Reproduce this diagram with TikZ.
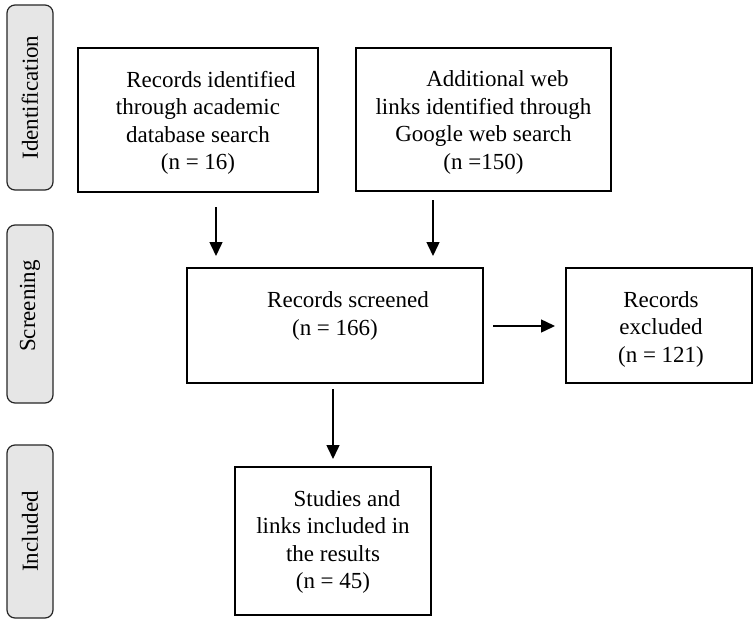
\documentclass[tikz,border=0pt]{standalone}
\usepackage{fontspec}
\setmainfont{Liberation Serif}
\usetikzlibrary{arrows.meta}
\definecolor{phasegray}{HTML}{E6E6E6}
\begin{document}
\begin{tikzpicture}[x=1pt,y=-1pt,
  every node/.style={font=\fontsize{23}{27.5}\selectfont},
  phase/.style={draw=black!85, line width=1.2pt, fill=phasegray,
    rounded corners=8pt, rotate=90, minimum height=46pt, inner sep=0pt},
  flowbox/.style={draw=black, line width=1.5pt, inner sep=0pt},
  txt/.style={align=center, inner sep=0pt},
  flow/.style={line width=1.5pt, -{Triangle[length=14pt,width=13pt]}}]
  \useasboundingbox (0,0) rectangle (753,619);

  % phase labels on the left
  \node[phase, minimum width=185pt] (pid)  at (30,97.5)  {Identification};
  \node[phase, minimum width=178pt] (pscr) at (30,314)   {\hspace*{16pt}Screening};
  \node[phase, minimum width=173pt] (pinc) at (30,531.5) {Included};

  % identification boxes
  \node[flowbox, minimum width=240pt, minimum height=144pt] (db) at (198,120) {};
  \node[txt] (dbtxt) at (198,123)
    {\hspace*{26pt}Records identified\\through academic\\database search\\(n = 16)};
  \node[flowbox, minimum width=255pt, minimum height=143pt] (web) at (483.5,119.5) {};
  \node[txt] (webtxt) at (483.5,122.5)
    {\hspace*{28pt}Additional web\\links identified through\\Google web search\\(n =150)};

  % screening boxes
  \node[flowbox, minimum width=296pt, minimum height=115pt] (scr) at (335,325.5) {};
  \node[txt] (scrtxt) at (335,316) {\hspace*{26pt}Records screened\\(n = 166)};
  \node[flowbox, minimum width=186pt, minimum height=115pt] (exc) at (659,325.5) {};
  \node[txt] (exctxt) at (661,329) {Records\\excluded\\(n = 121)};

  % included box
  \node[flowbox, minimum width=196pt, minimum height=148pt] (inc) at (333,541) {};
  \node[txt] (inctxt) at (333,542)
    {\hspace*{28pt}Studies and\\links included in\\the results\\(n = 45)};

  % arrow end points
  \coordinate (dbout)  at (216,207);
  \coordinate (scrinl) at (216,256);
  \coordinate (webout) at (433,200);
  \coordinate (scrinr) at (433,256);
  \coordinate (scrout) at (493,326);
  \coordinate (excin)  at (555,326);
  \coordinate (scrdn)  at (333,389);
  \coordinate (incin)  at (333,459);

  \draw[flow] (dbout) -- (scrinl);
  \draw[flow] (webout) -- (scrinr);
  \draw[flow] (scrout) -- (excin);
  \draw[flow] (scrdn) -- (incin);
\end{tikzpicture}
\end{document}
